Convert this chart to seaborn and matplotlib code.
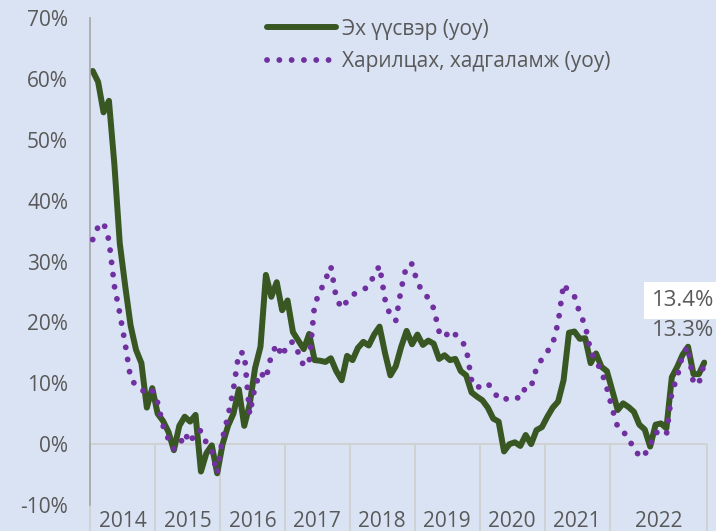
import numpy as np
import pandas as pd
import matplotlib
matplotlib.use("Agg")
import matplotlib.pyplot as plt
import seaborn as sns

# monthly yoy growth, Jan 2014 - Jun 2023 (%)
eh_uusver = [61.3, 59.5, 54.5, 56.4, 46, 33, 26, 19.5, 15.5, 13.3, 6, 9.2,
             5, 3.8, 2, -1, 3, 4.5, 3.7, 4.8, -4.5, -1.5, -0.2, -4.8,
             0, 3, 5, 9, 3, 6.5, 12.5, 16, 27.8, 24.2, 26.6, 22,
             23.6, 18.4, 17, 15.6, 18.1, 13.8, 13.7, 13.5, 14.1, 12, 10.5, 14.5,
             13.8, 15.8, 16.8, 16.2, 18, 19.3, 15, 11.3, 12.8, 16, 18.6, 16.4,
             18, 16.3, 17, 16.5, 14, 14.6, 13.8, 14, 12, 11.3, 8.5, 7.8,
             7.2, 6, 4.2, 3.7, -1.2, 0, 0.3, -0.3, 1.5, 0, 2.3, 2.8,
             4.5, 6, 7, 10.5, 18.3, 18.5, 17.3, 17.4, 13.3, 14.9, 12.7, 12,
             8.8, 5.6, 6.7, 6.1, 5.3, 3.2, 2.4, -0.4, 3.2, 3.4, 2.6, 11,
             12.7, 14.7, 16, 11.5, 11.5, 13.4]
hariltsah = [33.6, 35.7, 36.4, 33.5, 26, 21.5, 16.5, 10.8, 9.6, 9, 8.2, 8.8,
             6.8, 3, 0.8, -0.8, -0.3, 1.8, 0.2, 2.1, 2.2, 0.2, -1.2, -4.8,
             1, 4.6, 9, 15, 15, 4.9, 9.5, 11.8, 10.7, 14.6, 16.4, 14.4,
             16.5, 16.8, 15, 12.8, 13.5, 23, 25, 27, 29.2, 24, 22.3, 23.5,
             24.5, 25, 25.4, 25.9, 27.8, 29.3, 23.8, 21, 20.3, 25.5, 29.4, 29.6,
             26.5, 25, 24, 22.3, 18.5, 17.5, 18.7, 18, 17.2, 15.8, 10.5, 9.2,
             9.8, 10, 8.7, 7.5, 7.2, 7.8, 7.7, 7.5, 9.4, 9.4, 12.5, 14,
             15.2, 16.5, 20, 26.3, 25, 24.3, 21.5, 19.5, 15.2, 13.6, 12, 9.2,
             5.8, 2.8, 2.3, 0.4, -0.2, -2.2, -1.7, -0.2, 2, 1.6, 1.5, 8.5,
             11, 14.8, 16, 9.9, 10, 13.3]
year_labels = ["2014", "2015", "2016", "2017", "2018", "2019", "2020", "2021", "2022"]
months_in_group = [12, 12, 12, 12, 12, 12, 12, 12, 18]
y_ticks = [-10, 0, 10, 20, 30, 40, 50, 60, 70]

GREEN = "#385723"
PURPLE = "#7030a0"
BG = "#dae3f3"
TXT = "#595959"

df = pd.DataFrame({"month": np.arange(len(eh_uusver)),
                   "eh": eh_uusver, "har": hariltsah})

sns.set_style("white")
plt.rcParams["font.family"] = ["Open Sans", "DejaVu Sans"]

fig, ax = plt.subplots(figsize=(7.16, 5.31), dpi=100)
fig.patch.set_facecolor(BG)
ax.set_facecolor(BG)
fig.subplots_adjust(left=90/716, right=707/716, bottom=26/531, top=513/531)

sns.lineplot(data=df, x="month", y="eh", color=GREEN, lw=4.3,
             solid_capstyle="round", solid_joinstyle="round",
             label="Эх үүсвэр (yoy)", ax=ax, zorder=2)
sns.lineplot(data=df, x="month", y="har", color=PURPLE, lw=4.2,
             linestyle=(0, (0.01, 2.1)), dash_capstyle="round",
             label="Харилцах, хадгаламж (yoy)", ax=ax, zorder=3)

n = len(eh_uusver)
ax.set_xlim(-0.5, n - 0.5)
ax.set_ylim(-10, 70)

# year groups on the category axis
bounds = np.concatenate([[0], np.cumsum(months_in_group)]) - 0.5
centers = (bounds[:-1] + bounds[1:]) / 2
ax.set_xticks(centers)
ax.set_xticklabels(year_labels)
ax.tick_params(axis="x", length=0, pad=4, labelsize=15, labelcolor=TXT)
ax.axhline(0, color="#d0d0d0", lw=1.3, zorder=1)
ax.vlines(bounds, -15, 0, colors="#d0d0d0", lw=1.3, clip_on=False, zorder=1)

ax.set_yticks(y_ticks)
ax.set_yticklabels([f"{v}%" for v in y_ticks])
ax.tick_params(axis="y", direction="inout", length=11.5, width=1,
               color="#a6a6a6", pad=10, labelsize=15, labelcolor=TXT)

for s in ["top", "right", "bottom"]:
    ax.spines[s].set_visible(False)
ax.spines["left"].set_color("#a6a6a6")
ax.spines["left"].set_linewidth(1.2)
ax.set_xlabel("")
ax.set_ylabel("")

ax.legend(loc="upper left", bbox_to_anchor=(0.257, 1.037), frameon=False,
          fontsize=15, labelcolor=TXT, handlelength=3.3, handletextpad=0.3,
          labelspacing=0.55)

ax.text(109.1, 23.6, f"{eh_uusver[-1]}%", ha="center", va="center", fontsize=16,
        color=TXT, bbox=dict(facecolor="white", edgecolor="none", pad=6),
        clip_on=False, zorder=5)
ax.text(109.1, 18.6, f"{hariltsah[-1]}%", ha="center", va="center", fontsize=16,
        color=TXT, clip_on=False, zorder=5)

plt.savefig("out.png", dpi=100, facecolor=BG)
